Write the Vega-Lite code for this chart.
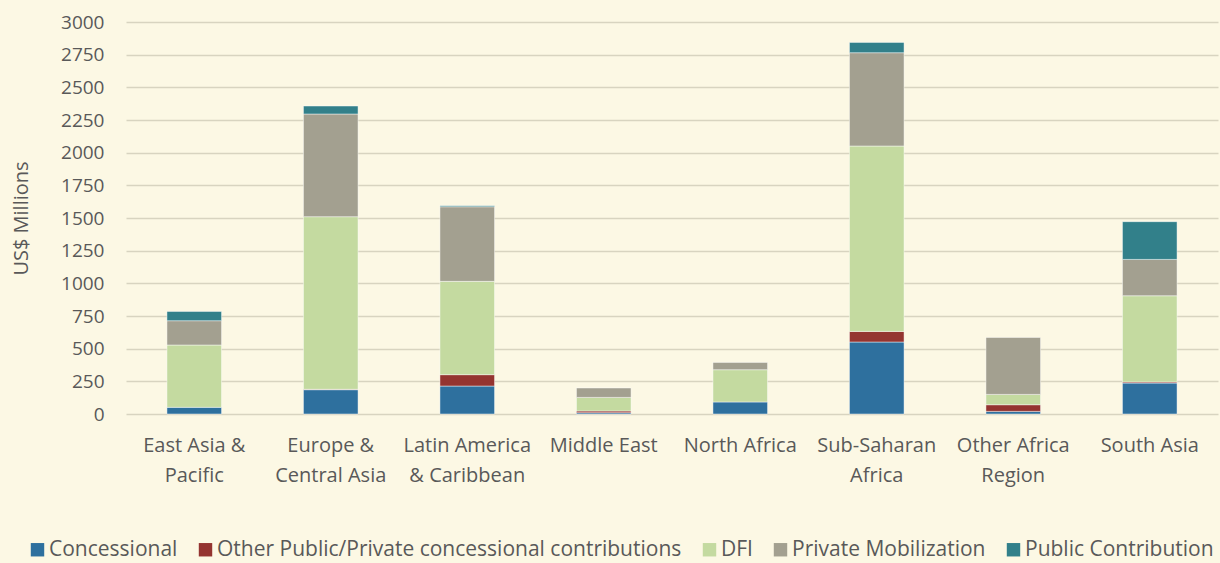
{
  "$schema": "https://vega.github.io/schema/vega-lite/v6.json",
  "autosize": {"type": "none"},
  "width": 1092,
  "height": 392,
  "padding": {"left": 126, "top": 22, "right": 2, "bottom": 149},
  "background": "#FCF8E4",
  "config": {
    "view": {"stroke": null},
    "font": "Open Sans",
    "axis": {"labelColor": "#595959", "titleColor": "#595959", "labelFont": "Open Sans", "titleFont": "Open Sans"},
    "legend": {"labelColor": "#595959", "labelFont": "Open Sans"}
  },
  "data": {
    "values": [
      {"region": "East Asia & Pacific", "series": "Concessional", "value": 51},
      {"region": "East Asia & Pacific", "series": "DFI", "value": 477},
      {"region": "East Asia & Pacific", "series": "Private Mobilization", "value": 186},
      {"region": "East Asia & Pacific", "series": "Public Contribution", "value": 71},
      {"region": "Europe & Central Asia", "series": "Concessional", "value": 186},
      {"region": "Europe & Central Asia", "series": "Other Public/Private concessional contributions", "value": 3},
      {"region": "Europe & Central Asia", "series": "DFI", "value": 1321},
      {"region": "Europe & Central Asia", "series": "Private Mobilization", "value": 786},
      {"region": "Europe & Central Asia", "series": "Public Contribution", "value": 61},
      {"region": "Latin America & Caribbean", "series": "Concessional", "value": 214},
      {"region": "Latin America & Caribbean", "series": "Other Public/Private concessional contributions", "value": 87},
      {"region": "Latin America & Caribbean", "series": "DFI", "value": 714},
      {"region": "Latin America & Caribbean", "series": "Private Mobilization", "value": 571},
      {"region": "Latin America & Caribbean", "series": "Public Contribution", "value": 8},
      {"region": "Middle East", "series": "Concessional", "value": 10},
      {"region": "Middle East", "series": "Other Public/Private concessional contributions", "value": 13},
      {"region": "Middle East", "series": "DFI", "value": 104},
      {"region": "Middle East", "series": "Private Mobilization", "value": 72},
      {"region": "North Africa", "series": "Concessional", "value": 92},
      {"region": "North Africa", "series": "DFI", "value": 247},
      {"region": "North Africa", "series": "Private Mobilization", "value": 56},
      {"region": "Sub-Saharan Africa", "series": "Concessional", "value": 551},
      {"region": "Sub-Saharan Africa", "series": "Other Public/Private concessional contributions", "value": 81},
      {"region": "Sub-Saharan Africa", "series": "DFI", "value": 1419},
      {"region": "Sub-Saharan Africa", "series": "Private Mobilization", "value": 714},
      {"region": "Sub-Saharan Africa", "series": "Public Contribution", "value": 79},
      {"region": "Other Africa Region", "series": "Concessional", "value": 20},
      {"region": "Other Africa Region", "series": "Other Public/Private concessional contributions", "value": 51},
      {"region": "Other Africa Region", "series": "DFI", "value": 79},
      {"region": "Other Africa Region", "series": "Private Mobilization", "value": 436},
      {"region": "South Asia", "series": "Concessional", "value": 237},
      {"region": "South Asia", "series": "Other Public/Private concessional contributions", "value": 8},
      {"region": "South Asia", "series": "DFI", "value": 660},
      {"region": "South Asia", "series": "Private Mobilization", "value": 278},
      {"region": "South Asia", "series": "Public Contribution", "value": 289}
    ]
  },
  "transform": [
    {"calculate": "indexof(['Concessional','Other Public/Private concessional contributions','DFI','Private Mobilization','Public Contribution'], datum.series)", "as": "stackOrder"}
  ],
  "mark": {"type": "bar", "stroke": "#FFFFFF", "strokeOpacity": 0.6, "strokeWidth": 0.75},
  "encoding": {
    "x": {
      "field": "region",
      "type": "nominal",
      "sort": ["East Asia & Pacific", "Europe & Central Asia", "Latin America & Caribbean", "Middle East", "North Africa", "Sub-Saharan Africa", "Other Africa Region", "South Asia"],
      "scale": {"paddingInner": 0.6, "paddingOuter": 0.3},
      "axis": {
        "title": null,
        "labelAngle": 0,
        "domain": false,
        "ticks": false,
        "labelFontSize": 20,
        "labelPadding": 21,
        "labelLineHeight": 30,
        "labelBaseline": "top",
        "labelExpr": "datum.value == 'East Asia & Pacific' ? ['East Asia &', 'Pacific'] : datum.value == 'Europe & Central Asia' ? ['Europe &', 'Central Asia'] : datum.value == 'Latin America & Caribbean' ? ['Latin America', '& Caribbean'] : datum.value == 'Sub-Saharan Africa' ? ['Sub-Saharan', 'Africa'] : datum.value == 'Other Africa Region' ? ['Other Africa', 'Region'] : datum.value"
      }
    },
    "y": {
      "field": "value",
      "type": "quantitative",
      "aggregate": "sum",
      "stack": "zero",
      "scale": {"domain": [0, 3000], "nice": false},
      "axis": {
        "title": "US$  Millions",
        "titleFontSize": 20,
        "titleFontWeight": "normal",
        "titlePadding": 29,
        "format": "d",
        "values": [0, 250, 500, 750, 1000, 1250, 1500, 1750, 2000, 2250, 2500, 2750, 3000],
        "labelFontSize": 19,
        "labelPadding": 22,
        "domain": false,
        "ticks": false,
        "grid": true,
        "gridColor": "#D8D4C0",
        "gridWidth": 1.6
      }
    },
    "color": {
      "field": "series",
      "type": "nominal",
      "scale": {
        "domain": ["Concessional", "Other Public/Private concessional contributions", "DFI", "Private Mobilization", "Public Contribution"],
        "range": ["#2E709E", "#943430", "#C4DAA0", "#A3A090", "#32808A"]
      },
      "legend": {
        "title": null,
        "orient": "none",
        "legendX": -99,
        "legendY": 517,
        "direction": "horizontal",
        "columns": 5,
        "columnPadding": 17,
        "symbolType": "square",
        "symbolSize": 180,
        "symbolStrokeWidth": 0,
        "labelFontSize": 21,
        "labelOffset": 1,
        "labelLimit": 600
      }
    },
    "order": {"field": "stackOrder", "type": "quantitative", "sort": "ascending"}
  }
}
